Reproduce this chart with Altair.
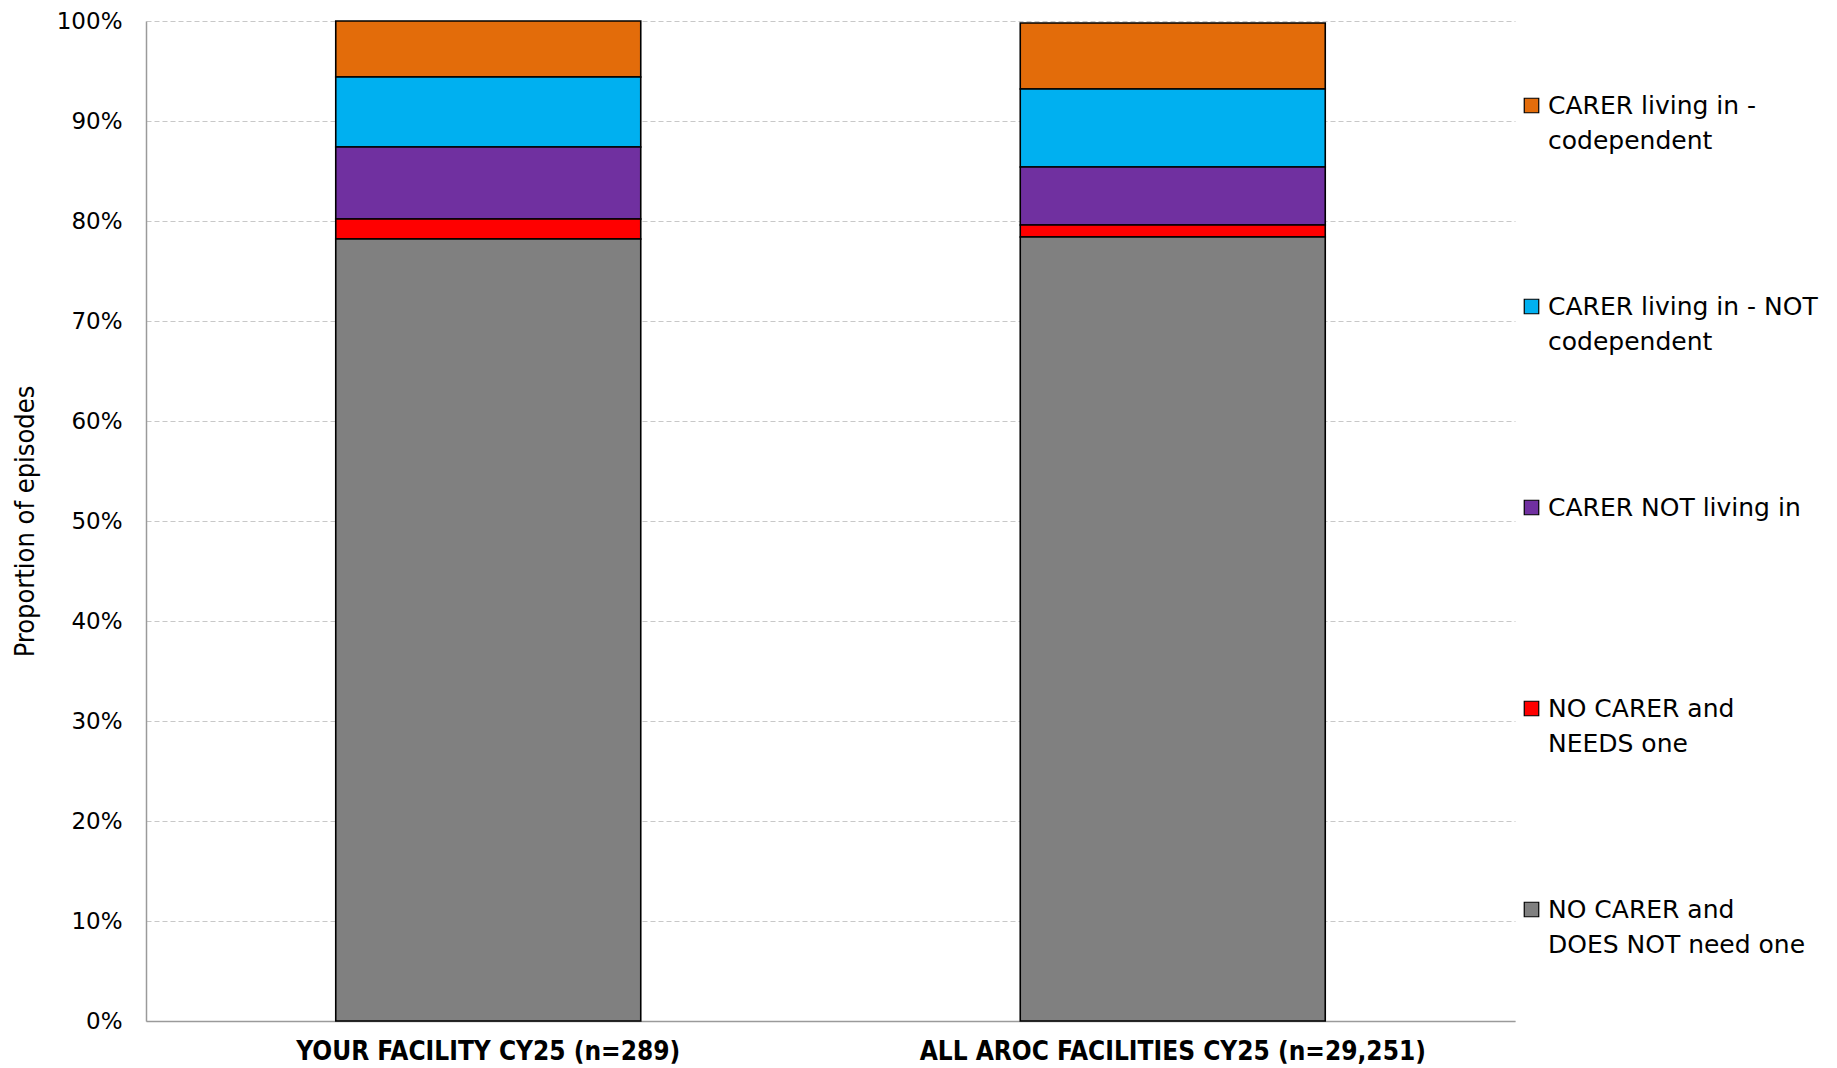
import altair as alt
import pandas as pd

categories = ["YOUR FACILITY CY25 (n=289)", "ALL AROC FACILITIES CY25 (n=29,251)"]

# legend order (top to bottom)
series = [
    "CARER living in - codependent",
    "CARER living in - NOT codependent",
    "CARER NOT living in",
    "NO CARER and NEEDS one",
    "NO CARER and DOES NOT need one",
]
series_lines = [
    ["CARER living in -", "codependent"],
    ["CARER living in - NOT", "codependent"],
    ["CARER NOT living in", ""],
    ["NO CARER and", "NEEDS one"],
    ["NO CARER and", "DOES NOT need one"],
]
colors = ["#E36C0A", "#00B0F0", "#7030A0", "#FF0000", "#808080"]

# values (%) per series, for [your facility, all AROC]
codependent = [5.6, 6.6]
not_codependent = [7.0, 7.8]
not_living_in = [7.2, 5.8]
needs_one = [2.0, 1.2]
does_not_need = [78.2, 78.4]
values = [codependent, not_codependent, not_living_in, needs_one, does_not_need]

rows = []
for si, (name, vals) in enumerate(zip(series, values)):
    for ci, cat in enumerate(categories):
        rows.append({"category": cat, "series": name, "value": vals[ci] / 100.0,
                     "stack_order": len(series) - si})
df = pd.DataFrame(rows)

label_expr = ""
for name, lines in zip(series, series_lines):
    arr = "[" + ",".join("'" + l + "'" for l in lines) + "]"
    label_expr += f"datum.label == '{name}' ? {arr} : "
label_expr += "datum.label"

COND = "'DejaVu Sans Condensed', 'Liberation Sans', sans-serif"

chart = alt.Chart(df).mark_bar(
    width=305, stroke="black", strokeWidth=1.6
).encode(
    x=alt.X("category:N", sort=categories, title=None,
            axis=alt.Axis(labelAngle=0, ticks=False, labelFont=COND,
                          labelFontWeight="bold", labelFontSize=26, labelPadding=17,
                          labelColor="black", domainColor="#9a9a9a", domainWidth=1.5,
                          grid=False, labelLimit=700)),
    y=alt.Y("value:Q", stack="zero", title="Proportion of episodes",
            scale=alt.Scale(domain=[0, 1], nice=False),
            axis=alt.Axis(format=".0%", values=[i / 10 for i in range(11)], ticks=False,
                          labelFont="DejaVu Sans", labelFontSize=23, labelPadding=24,
                          labelColor="black", domainColor="#9a9a9a", domainWidth=1.5,
                          gridColor="#c8c8c8", gridDash=[5, 3], gridWidth=1.2,
                          titleFont=COND, titleFontSize=27,
                          titleFontWeight="normal", titleColor="black", titlePadding=17)),
    color=alt.Color("series:N", sort=series,
                    scale=alt.Scale(domain=series, range=colors),
                    legend=alt.Legend(title=None, orient="none", legendX=1373, legendY=72,
                                      direction="vertical", symbolType="square",
                                      symbolSize=210, symbolStrokeColor="black",
                                      symbolStrokeWidth=1.2, symbolOpacity=1,
                                      labelFont="DejaVu Sans", labelFontSize=25,
                                      labelColor="black", labelLimit=400,
                                      labelBaseline="middle", labelOffset=4,
                                      rowPadding=140, labelExpr=label_expr)),
    order=alt.Order("stack_order:Q", sort="ascending"),
).properties(
    width=1369, height=1000,
    autosize=alt.AutoSizeParams(type="none"),
    padding={"left": 138, "top": 13, "right": 314, "bottom": 46},
).configure(
    style={"guide-label": {"lineHeight": 35}},
    view=alt.ViewConfig(stroke=None),
)

chart.save("out.html", embed_options={"renderer": "svg", "actions": False})
